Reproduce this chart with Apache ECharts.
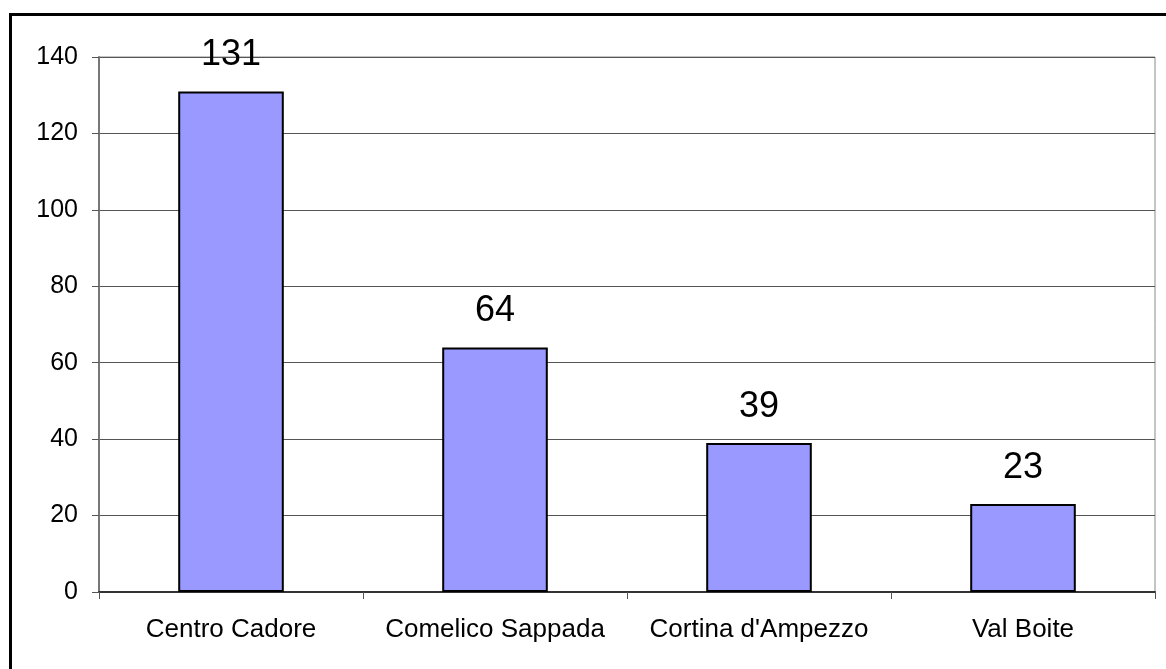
<!DOCTYPE html>
<html>
<head>
<meta charset="utf-8">
<style>
  html, body { margin: 0; padding: 0; background: #ffffff; }
  #chart { width: 1166px; height: 669px; }
</style>
<script src="https://cdn.jsdelivr.net/npm/echarts@6/dist/echarts.min.js"></script>
</head>
<body>
<div id="chart"></div>
<script>
// Areas and counts per area
const categories = ['Centro Cadore', 'Comelico Sappada', "Cortina d'Ampezzo", 'Val Boite'];
const counts = [131, 64, 39, 23];
const yTicks = { min: 0, max: 140, interval: 20 };

const chart = echarts.init(document.getElementById('chart'), null, { renderer: 'canvas' });

chart.setOption({
  animation: false,
  backgroundColor: '#ffffff',
  textStyle: { fontFamily: 'Liberation Sans, Arial, sans-serif' },
  graphic: [{
    type: 'rect',
    shape: { x: 10.5, y: 14.5, width: 1170, height: 670 },
    style: { fill: 'none', stroke: '#000000', lineWidth: 3 },
    silent: true
  }],
  grid: {
    left: 99, right: 11, top: 57, bottom: 77,
    show: true, borderColor: '#8a8a8a', borderWidth: 1, backgroundColor: 'transparent'
  },
  xAxis: {
    type: 'category',
    data: categories,
    axisLine: { lineStyle: { color: '#333333', width: 2 } },
    axisTick: { show: true, interval: 0, length: 7, lineStyle: { color: '#555555' } },
    axisLabel: { color: '#000000', fontSize: 26, margin: 25, interval: 0, hideOverlap: false }
  },
  yAxis: {
    type: 'value',
    min: yTicks.min, max: yTicks.max, interval: yTicks.interval,
    axisLine: { show: true, lineStyle: { color: '#777777', width: 2 } },
    axisTick: { show: true, length: 7, lineStyle: { color: '#555555' } },
    splitLine: { lineStyle: { color: '#555555', width: 1 } },
    axisLabel: { color: '#000000', fontSize: 25, margin: 21 }
  },
  series: [{
    type: 'bar',
    data: counts,
    barWidth: '40%',
    itemStyle: { color: '#9999ff', borderColor: '#000000', borderWidth: 2 },
    label: {
      show: true, position: 'top', distance: 18,
      color: '#000000', fontSize: 36
    }
  }]
});
</script>
</body>
</html>
